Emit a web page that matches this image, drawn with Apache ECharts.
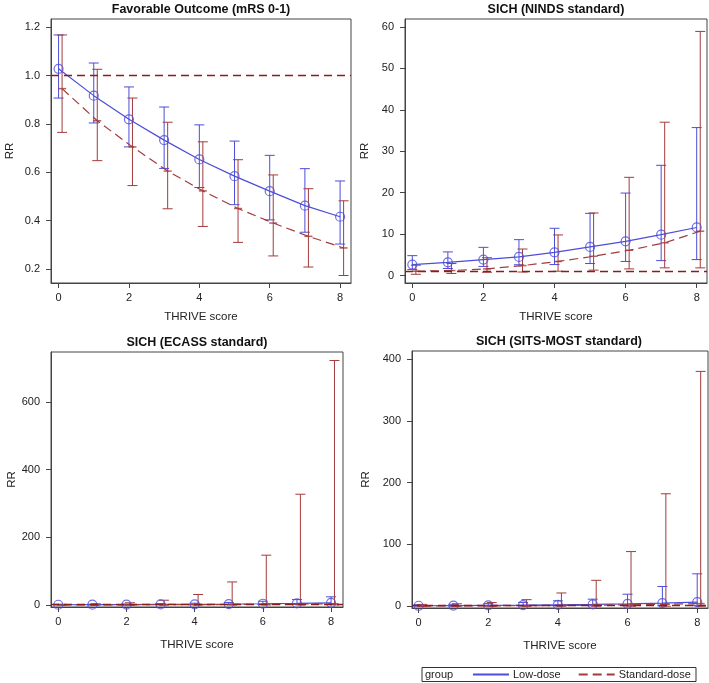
<!DOCTYPE html>
<html><head><meta charset="utf-8">
<script src="https://cdn.jsdelivr.net/npm/echarts@6/dist/echarts.min.js"></script>
<style>html,body{margin:0;padding:0;background:#fff}#c{width:709px;height:683px}</style>
</head><body><div id="c"></div><script>
// ---------------- DATA ----------------
const thriveScores = [0, 1, 2, 3, 4, 5, 6, 7, 8];
const panelTitles = ['Favorable Outcome (mRS 0-1)', 'SICH (NINDS standard)', 'SICH (ECASS standard)', 'SICH (SITS-MOST standard)'];
const groupNames = ['Low-dose', 'Standard-dose'];
const xAxisTitle = 'THRIVE score';
const yAxisTitle = 'RR';
const xTickLabels = [0, 2, 4, 6, 8];
const referenceValue = 1;

// Panel 1: Favorable Outcome
const favLowRR   = [1.028, 0.917, 0.819, 0.733, 0.653, 0.584, 0.522, 0.462, 0.416];
const favLowLo   = [0.907, 0.804, 0.705, 0.616, 0.537, 0.466, 0.403, 0.352, 0.303];
const favLowHi   = [1.168, 1.052, 0.953, 0.870, 0.796, 0.729, 0.670, 0.615, 0.564];
const favStdRR   = [0.946, 0.813, 0.705, 0.605, 0.523, 0.450, 0.390, 0.335, 0.287];
const favStdLo   = [0.765, 0.648, 0.545, 0.449, 0.376, 0.310, 0.254, 0.208, 0.173];
const favStdHi   = [1.168, 1.026, 0.907, 0.807, 0.726, 0.652, 0.589, 0.532, 0.482];
const favYTicks  = [0.2, 0.4, 0.6, 0.8, 1.0, 1.2];

// Panel 2: SICH (NINDS)
const nindsLowRR = [2.65, 3.2, 3.85, 4.5, 5.6, 6.9, 8.26, 9.86, 11.6];
const nindsLowLo = [1.44, 1.7, 2.2, 2.6, 2.65, 2.9, 3.4, 3.6, 3.85];
const nindsLowHi = [4.8, 5.7, 6.8, 8.66, 11.4, 15.0, 19.9, 26.6, 35.7];
const nindsStdRR = [1.04, 1.2, 1.6, 2.4, 3.4, 4.65, 6.1, 7.9, 10.7];
const nindsStdLo = [0.3, 0.5, 0.8, 0.85, 1.04, 1.3, 1.6, 1.85, 1.85];
const nindsStdHi = [2.5, 2.9, 4.3, 6.4, 9.8, 15.1, 23.7, 37.0, 58.9];
const nindsYTicks = [0, 10, 20, 30, 40, 50, 60];

// Panel 3: SICH (ECASS)
const ecassLowRR = [0.6, 0.8, 1.1, 1.5, 2.0, 2.7, 3.6, 4.8, 6.4];
const ecassLowLo = [0.2, 0.3, 0.45, 0.6, 0.8, 1.0, 1.2, 1.4, 1.6];
const ecassLowHi = [1.8, 2.2, 2.8, 3.8, 5.2, 7.5, 11, 16, 24];
const ecassStdRR = [0.3, 0.4, 0.55, 0.75, 1.0, 1.4, 1.9, 2.6, 3.5];
const ecassStdLo = [0.05, 0.06, 0.07, 0.08, 0.08, 0.08, 0.08, 0.08, 0.08];
const ecassStdHi = [2, 3.5, 6.5, 14, 31, 68, 147, 327, 722];
const ecassYTicks = [0, 200, 400, 600];

// Panel 4: SICH (SITS-MOST)
const sitsLowRR = [0.8, 1.1, 1.4, 1.8, 2.4, 3.1, 4.0, 5.2, 6.6];
const sitsLowLo = [0.2, 0.3, 0.4, 0.5, 0.6, 0.7, 0.8, 0.85, 0.9];
const sitsLowHi = [2.5, 3.2, 4.3, 6.2, 8.8, 11.5, 19.5, 32, 52.5];
const sitsStdRR = [0.35, 0.5, 0.7, 0.95, 1.3, 1.8, 2.4, 3.2, 4.3];
const sitsStdLo = [0.05, 0.06, 0.07, 0.08, 0.08, 0.08, 0.08, 0.08, 0.08];
const sitsStdHi = [3, 4, 6, 10.7, 21.5, 42, 88.5, 182, 380];
const sitsYTicks = [0, 100, 200, 300, 400];

// ---------------- STYLE / LAYOUT ----------------
const BLUE = '#4d4dda';
const RED = '#a33b3b';
const REF = '#8b1c1c';
const stdOffset = 0.1; // standard-dose group drawn slightly right of the score
const FONT = '"Liberation Sans", Arial, sans-serif';

const panels = [
  {low: [favLowRR, favLowLo, favLowHi], std: [favStdRR, favStdLo, favStdHi], yTicks: favYTicks,
   grid: {left: 51, top: 19, width: 300, height: 264}, x: [-0.215, 8.31], y: [0.142, 1.234], dec: 1,
   title: [201, 3], yGap: 35, xGap: 28},
  {low: [nindsLowRR, nindsLowLo, nindsLowHi], std: [nindsStdRR, nindsStdLo, nindsStdHi], yTicks: nindsYTicks,
   grid: {left: 405, top: 19, width: 302, height: 264}, x: [-0.206, 8.29], y: [-1.8, 61.9], dec: 0,
   title: [556, 3], yGap: 34, xGap: 28},
  {low: [ecassLowRR, ecassLowLo, ecassLowHi], std: [ecassStdRR, ecassStdLo, ecassStdHi], yTicks: ecassYTicks,
   grid: {left: 51, top: 352, width: 292, height: 255}, x: [-0.214, 8.35], y: [-6, 747], dec: 0,
   title: [197, 336], yGap: 33, xGap: 32},
  {low: [sitsLowRR, sitsLowLo, sitsLowHi], std: [sitsStdRR, sitsStdLo, sitsStdHi], yTicks: sitsYTicks,
   grid: {left: 412, top: 351, width: 296, height: 257}, x: [-0.19, 8.31], y: [-2.8, 413], dec: 0,
   title: [559, 335], yGap: 40, xGap: 32}
];

function errRender(params, api) {
  const x = api.value(0), lo = api.value(1), hi = api.value(2);
  const pLo = api.coord([x, lo]), pHi = api.coord([x, hi]);
  const w = 5;
  const style = {stroke: api.visual('color'), lineWidth: 1, fill: null};
  return {type: 'group', children: [
    {type: 'line', shape: {x1: pLo[0], y1: pLo[1], x2: pHi[0], y2: pHi[1]}, style},
    {type: 'line', shape: {x1: pHi[0] - w, y1: pHi[1], x2: pHi[0] + w, y2: pHi[1]}, style},
    {type: 'line', shape: {x1: pLo[0] - w, y1: pLo[1], x2: pLo[0] + w, y2: pLo[1]}, style}
  ]};
}

const grids = [], xAxes = [], yAxes = [], series = [], titles = [];
panels.forEach((p, i) => {
  grids.push(Object.assign({show: true, borderColor: '#444', borderWidth: 1, backgroundColor: 'transparent'}, p.grid));
  titles.push({text: panelTitles[i], left: p.title[0], top: p.title[1], textAlign: 'center', padding: 0,
    textStyle: {fontFamily: FONT, fontSize: 12.5, fontWeight: 'bold', color: '#111'}});
  xAxes.push({type: 'value', gridIndex: i, min: p.x[0], max: p.x[1],
    name: xAxisTitle, nameLocation: 'middle', nameGap: p.xGap,
    nameTextStyle: {fontFamily: FONT, fontSize: 11.5, color: '#222'},
    axisLine: {show: true, onZero: false, lineStyle: {color: '#444'}},
    axisTick: {show: true, length: 5, customValues: xTickLabels, lineStyle: {color: '#444'}},
    axisLabel: {customValues: xTickLabels, margin: 9, fontFamily: FONT, fontSize: 11, color: '#222'},
    splitLine: {show: false}});
  yAxes.push({type: 'value', gridIndex: i, min: p.y[0], max: p.y[1],
    name: yAxisTitle, nameLocation: 'middle', nameGap: p.yGap,
    nameTextStyle: {fontFamily: FONT, fontSize: 11.5, color: '#222'},
    axisLine: {show: true, onZero: false, lineStyle: {color: '#444'}},
    axisTick: {show: true, length: 5, customValues: p.yTicks, lineStyle: {color: '#444'}},
    axisLabel: {customValues: p.yTicks, margin: 11, fontFamily: FONT, fontSize: 11, color: '#222',
      formatter: v => Number(v).toFixed(p.dec)},
    splitLine: {show: false}});

  const lowPts = thriveScores.map((s, k) => [s, p.low[0][k]]);
  const stdPts = thriveScores.map((s, k) => [s + stdOffset, p.std[0][k]]);
  const lowErr = thriveScores.map((s, k) => [s, p.low[1][k], p.low[2][k]]);
  const stdErr = thriveScores.map((s, k) => [s + stdOffset, p.std[1][k], p.std[2][k]]);

  series.push({type: 'custom', xAxisIndex: i, yAxisIndex: i, renderItem: errRender, data: lowErr,
    itemStyle: {color: BLUE}, clip: true, silent: true, z: 2});
  series.push({type: 'custom', xAxisIndex: i, yAxisIndex: i, renderItem: errRender, data: stdErr,
    itemStyle: {color: RED}, clip: true, silent: true, z: 2});
  series.push({type: 'line', name: groupNames[0], xAxisIndex: i, yAxisIndex: i, data: lowPts,
    symbol: 'none', lineStyle: {color: BLUE, width: 1.2}, itemStyle: {color: BLUE}, z: 3, silent: true,
    markLine: {silent: true, symbol: 'none', label: {show: false},
      lineStyle: {color: REF, type: [8, 5], width: 1.3}, data: [{yAxis: referenceValue}]}});
  series.push({type: 'line', name: groupNames[1], xAxisIndex: i, yAxisIndex: i, data: stdPts,
    symbol: 'none', lineStyle: {color: RED, width: 1.2, type: [9, 5]}, itemStyle: {color: RED}, z: 3, silent: true});
  series.push({type: 'scatter', xAxisIndex: i, yAxisIndex: i, data: lowPts, symbol: 'circle', symbolSize: 9,
    itemStyle: {color: 'rgba(0,0,0,0)', borderColor: BLUE, borderWidth: 1.2}, z: 4, silent: true});
  series.push({type: 'scatter', xAxisIndex: i, yAxisIndex: i, data: stdPts, symbol: 'rect', symbolSize: [8, 1.5],
    itemStyle: {color: RED}, z: 4, silent: true});
});

const chart = echarts.init(document.getElementById('c'), null, {renderer: 'canvas'});
chart.setOption({
  animation: false,
  backgroundColor: '#fff',
  title: titles,
  grid: grids,
  xAxis: xAxes,
  yAxis: yAxes,
  series: series,
  legend: {data: groupNames, left: 472, top: 669, padding: 0, itemWidth: 36, itemHeight: 12, itemGap: 17,
    selectedMode: false, itemStyle: {opacity: 0, color: 'rgba(0,0,0,0)', borderWidth: 0},
    textStyle: {fontFamily: FONT, fontSize: 11, color: '#222', padding: [0, 0, 0, -1]}},
  graphic: [
    {type: 'rect', shape: {x: 422, y: 667.5, width: 274, height: 14}, style: {fill: null, stroke: '#333', lineWidth: 1}},
    {type: 'text', left: 425, top: 669, style: {text: 'group', font: '11px ' + FONT, fill: '#222'}}
  ]
});
</script></body></html>
